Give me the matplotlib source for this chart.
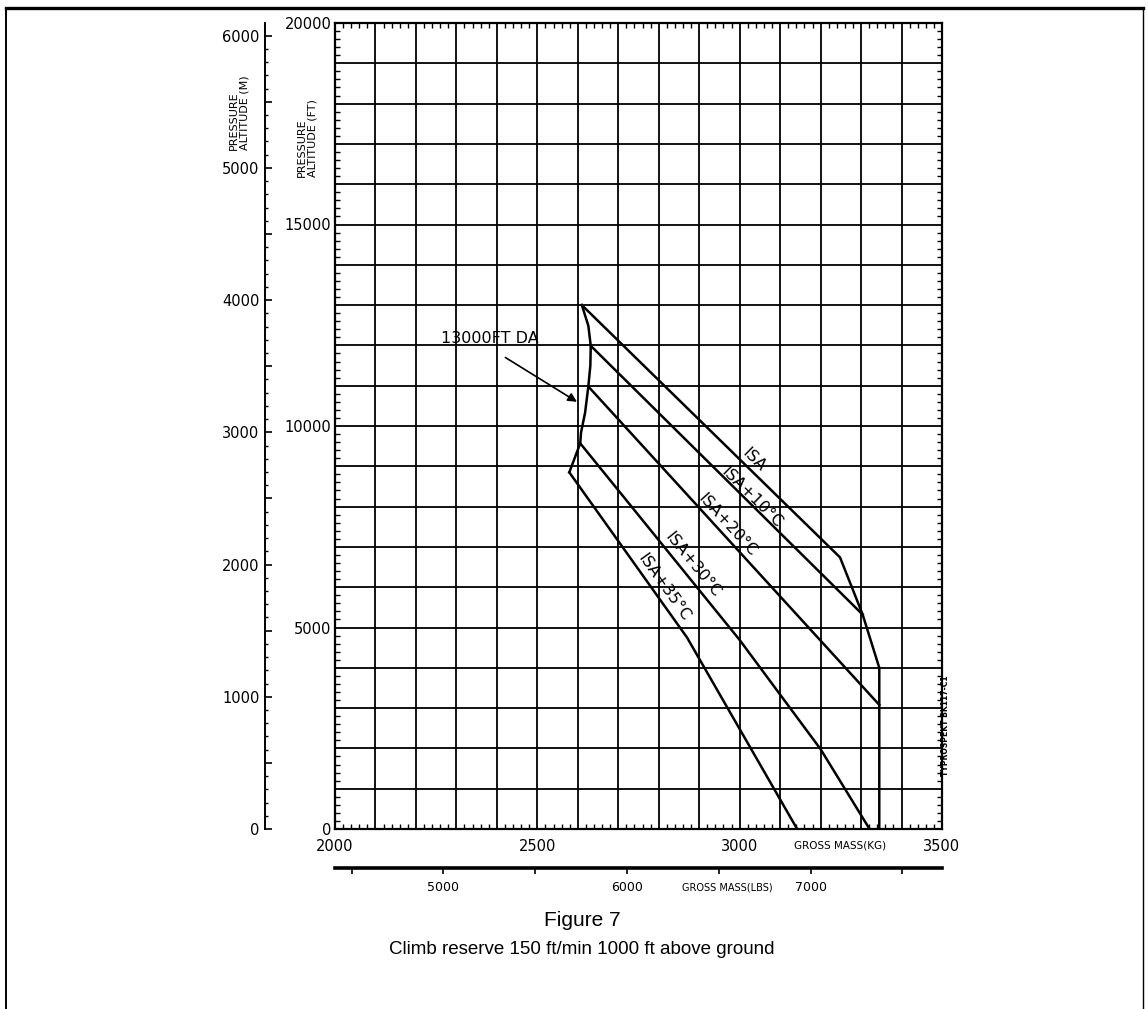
import numpy as np
import matplotlib
matplotlib.use("Agg")
import matplotlib.pyplot as plt
import matplotlib.ticker as tk
from matplotlib import font_manager
from matplotlib.lines import Line2D

W, H = 1148, 1009

# climb reserve curves, gross mass (kg) vs pressure altitude (ft)
isa_kg = [2610, 3248, 3304, 3345, 3345]
isa_ft = [13000, 6740, 5320, 4000, 0]
isa10_kg = [2632, 3304]
isa10_ft = [11990, 5320]
isa20_kg = [2626, 3345]
isa20_ft = [10980, 3080]
isa30_kg = [2606, 3000, 3200, 3321]
isa30_ft = [9570, 4690, 1980, 0]
isa35_kg = [2579, 2870, 3142]
isa35_ft = [8850, 4750, 0]

# 13000 ft density altitude limit
da_kg = [2610, 2626, 2632, 2631, 2626, 2618, 2608, 2606, 2579]
da_ft = [13000, 12490, 11990, 11500, 10980, 10330, 9840, 9570, 8850]

curve_names = ["ISA", "ISA+10°C", "ISA+20°C", "ISA+30°C", "ISA+35°C"]
label_kg = [3034, 3030, 2970, 2884, 2813]
label_ft = [9170, 8223, 7550, 6554, 5981]

kg_labels = [2000, 2500, 3000, 3500]
ft_labels = [0, 5000, 10000, 15000, 20000]
m_labels = [0, 1000, 2000, 3000, 4000, 5000, 6000]
lbs_labels = [5000, 6000, 7000]

KG_PER_LB = 0.45359237
M_PER_FT = 0.3048

def fx(px):
	return px / W

def fy(py):
	return 1 - py / H

ax_l, ax_r, ax_t, ax_b = 335, 942, 23, 829
num_font = "DejaVu Sans"

fig = plt.figure(figsize=(W / 100, H / 100), dpi=100)
fig.patch.set_facecolor("white")

# main chart
ax = fig.add_axes([fx(ax_l), fy(ax_b), (ax_r - ax_l) / W, (ax_b - ax_t) / H])
ax.set_xlim(kg_labels[0], kg_labels[-1])
ax.set_ylim(ft_labels[0], ft_labels[-1])
ax.xaxis.set_major_locator(tk.MultipleLocator(100))
ax.xaxis.set_minor_locator(tk.MultipleLocator(20))
ax.xaxis.set_major_formatter(tk.FuncFormatter(lambda v, p: "%d" % v if int(round(v)) in kg_labels else ""))
ax.yaxis.set_major_locator(tk.MultipleLocator(1000))
ax.yaxis.set_minor_locator(tk.MultipleLocator(200))
ax.yaxis.set_major_formatter(tk.FuncFormatter(lambda v, p: "%d" % v if int(round(v)) in ft_labels else ""))
ax.tick_params(which="major", length=0, labelsize=10.5)
ax.tick_params(axis="x", which="major", pad=7)
ax.tick_params(axis="y", which="major", pad=2.5)
ax.tick_params(which="minor", direction="in", length=3.5, width=1,
			top=True, right=True, bottom=True, left=True)
ax.grid(True, which="major", color="black", lw=1.3)
for s in ax.spines.values():
	s.set_linewidth(1.6)

for kg, ft in [(isa_kg, isa_ft), (isa10_kg, isa10_ft), (isa20_kg, isa20_ft),
			(isa30_kg, isa30_ft), (isa35_kg, isa35_ft), (da_kg, da_ft)]:
	ax.plot(kg, ft, color="black", lw=1.8, solid_joinstyle="round", zorder=3)

# labels along the lines, rotated with the first segment of each curve
curves = [(isa_kg, isa_ft), (isa10_kg, isa10_ft), (isa20_kg, isa20_ft),
		(isa30_kg, isa30_ft), (isa35_kg, isa35_ft)]
for name, (kg, ft), lx, ly in zip(curve_names, curves, label_kg, label_ft):
	ang = np.degrees(np.arctan2(ft[1] - ft[0], kg[1] - kg[0]))
	ax.text(lx, ly, name, fontsize=11.5, ha="center", va="center", rotation=ang,
		rotation_mode="anchor", transform_rotates_text=True, zorder=4)

ax.text(2261, 12060, "13000FT DA", fontsize=11.5, ha="left", va="baseline", zorder=4)
ax.annotate("", xy=(2598, 10600), xytext=(2421, 11700),
		arrowprops=dict(arrowstyle="-|>", color="black", lw=1.2, mutation_scale=13,
						shrinkA=0, shrinkB=0), zorder=4)

# metre scale
axm = fig.add_axes([fx(265), fy(ax_b), 0.0001, (ax_b - ax_t) / H])
axm.set_ylim(ft_labels[0] * M_PER_FT, ft_labels[-1] * M_PER_FT)
for k in ["right", "top", "bottom"]:
	axm.spines[k].set_visible(False)
axm.spines["left"].set_linewidth(1.4)
axm.set_xticks([])
axm.yaxis.set_major_locator(tk.MultipleLocator(500))
axm.yaxis.set_minor_locator(tk.MultipleLocator(100))
axm.yaxis.set_major_formatter(tk.FuncFormatter(lambda v, p: "%d" % v if int(round(v)) in m_labels else ""))
axm.tick_params(which="major", direction="in", length=5, width=1.2, labelsize=10.5, pad=4)
axm.tick_params(which="minor", direction="in", length=2.5, width=1)

# pound scale
axl = fig.add_axes([fx(ax_l), fy(868), (ax_r - ax_l) / W, 0.0001])
axl.set_xlim(kg_labels[0] / KG_PER_LB, kg_labels[-1] / KG_PER_LB)
for k in ["right", "top", "left"]:
	axl.spines[k].set_visible(False)
axl.spines["bottom"].set_linewidth(2.6)
axl.set_yticks([])
axl.xaxis.set_major_locator(tk.MultipleLocator(500))
axl.xaxis.set_major_formatter(tk.FuncFormatter(lambda v, p: "%d" % v if int(round(v)) in lbs_labels else ""))
axl.tick_params(which="major", direction="out", length=4.5, width=1.2, labelsize=9, pad=5)

# axis titles
fig.text(fx(239), fy(150), "PRESSURE\nALTITUDE (M)", rotation=90, fontsize=8,
		ha="center", va="bottom", multialignment="left", linespacing=1.1)
fig.text(fx(307), fy(177), "PRESSURE\nALTITUDE (FT)", rotation=90, fontsize=8,
		ha="center", va="bottom", multialignment="left", linespacing=1.1)
fig.text(fx(840), fy(846), "GROSS MASS(KG)", fontsize=7.5, ha="center", va="center")
fig.text(fx(727), fy(888), "GROSS MASS(LBS)", fontsize=7, ha="center", va="center")
fig.text(fx(946), fy(726), "TYPROSPEKT BK117-C1", rotation=90, fontsize=5.5,
		fontweight="bold", ha="center", va="center")

# caption
names = {f.name for f in font_manager.fontManager.ttflist}
fig.text(fx(582), fy(921), "Figure 7", fontsize=15, family="Liberation Sans",
		ha="center", va="center")
if "Liberation Sans Narrow" in names:
	fig.text(fx(582), fy(949), "Climb reserve 150 ft/min 1000 ft above ground", fontsize=15.5,
			family="Liberation Sans Narrow", ha="center", va="center")
else:
	fig.text(fx(582), fy(949), "Climb reserve 150 ft/min 1000 ft above ground", fontsize=13.5,
			family="Liberation Sans", ha="center", va="center")

# page frame
fig.add_artist(Line2D([fx(6), fx(1143)], [fy(8), fy(8)], color="black", lw=2.4))
fig.add_artist(Line2D([fx(6), fx(6)], [fy(8), fy(1009)], color="black", lw=1.4))
fig.add_artist(Line2D([fx(1143), fx(1143)], [fy(8), fy(1009)], color="black", lw=1.0))

fig.savefig("out.png", dpi=100, facecolor="white")
